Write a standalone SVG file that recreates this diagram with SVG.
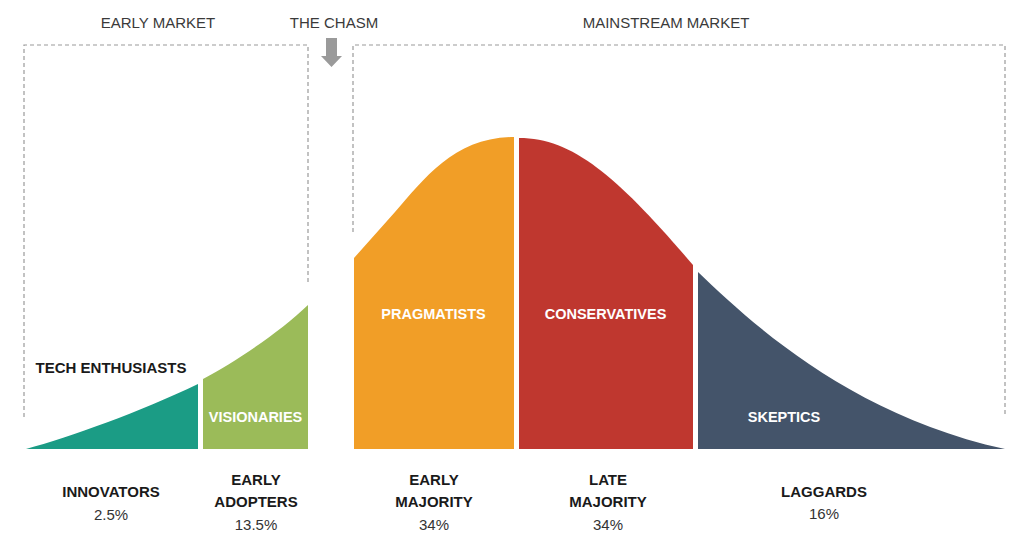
<svg xmlns="http://www.w3.org/2000/svg" width="1012" height="535" viewBox="0 0 1012 535">
<style>
.bg{fill:#ffffff}
.dash{fill:none;stroke:#9a9a9a;stroke-width:1.2;stroke-dasharray:4 3}
.top{font-family:"Liberation Sans",Arial,sans-serif;font-size:15px;fill:#3a3a3a;text-anchor:middle}
.in{font-family:"Liberation Sans",Arial,sans-serif;font-size:14.5px;font-weight:bold;fill:#ffffff;text-anchor:middle}
.lbl{font-family:"Liberation Sans",Arial,sans-serif;font-size:15px;font-weight:bold;fill:#1a1a1a;text-anchor:middle}
.pct{font-family:"Liberation Sans",Arial,sans-serif;font-size:15px;fill:#333333;text-anchor:middle}
</style>
<rect class="bg" x="0" y="0" width="1012" height="535"/>

<g id="early-market">
  <path class="dash" d="M24,417 L24,45 L308,45 L308,283"/>
  <text class="top" x="158" y="28">EARLY MARKET</text>
</g>
<g id="mainstream-market">
  <path class="dash" d="M353,232 L353,45 L1005,45 L1005,417"/>
  <text class="top" x="666" y="28">MAINSTREAM MARKET</text>
</g>
<g id="the-chasm">
  <text class="top" x="334" y="28">THE CHASM</text>
</g>

<g id="connectors">
  <polygon fill="#9a9a9a" points="326,38 337,38 337,56 342,56 331.5,67 321,56 326,56"/>
</g>

<g id="innovators">
  <path fill="#1b9c85" d="M26,449 C70,437 140,412 198,384 L198,449 Z"/>
  <text class="lbl" x="111" y="373">TECH ENTHUSIASTS</text>
  <text class="lbl" x="111" y="497">INNOVATORS</text>
  <text class="pct" x="111" y="520">2.5%</text>
</g>
<g id="early-adopters">
  <path fill="#9bbb59" d="M203,379 C235,362 280,332 308,305 L308,449 L203,449 Z"/>
  <text class="in" x="255.5" y="422">VISIONARIES</text>
  <text class="lbl" x="256" y="485">EARLY</text>
  <text class="lbl" x="256" y="507">ADOPTERS</text>
  <text class="pct" x="256" y="530">13.5%</text>
</g>
<g id="early-majority">
  <path fill="#f19e27" d="M354,449 L354,258 L395,212 C425,178 455,137 514,137 L514,449 Z"/>
  <text class="in" x="433.5" y="319">PRAGMATISTS</text>
  <text class="lbl" x="434" y="485">EARLY</text>
  <text class="lbl" x="434" y="507">MAJORITY</text>
  <text class="pct" x="434" y="530">34%</text>
</g>
<g id="late-majority">
  <path fill="#bf372f" d="M519,138 C575,138 620,180 693,265 L693,449 L519,449 Z"/>
  <text class="in" x="605.5" y="319">CONSERVATIVES</text>
  <text class="lbl" x="608" y="485">LATE</text>
  <text class="lbl" x="608" y="507">MAJORITY</text>
  <text class="pct" x="608" y="530">34%</text>
</g>
<g id="laggards">
  <path fill="#44546a" d="M698,272 C750,322 850,415 1005,449 L698,449 Z"/>
  <text class="in" x="784" y="422">SKEPTICS</text>
  <text class="lbl" x="824" y="497">LAGGARDS</text>
  <text class="pct" x="824" y="519">16%</text>
</g>
</svg>
